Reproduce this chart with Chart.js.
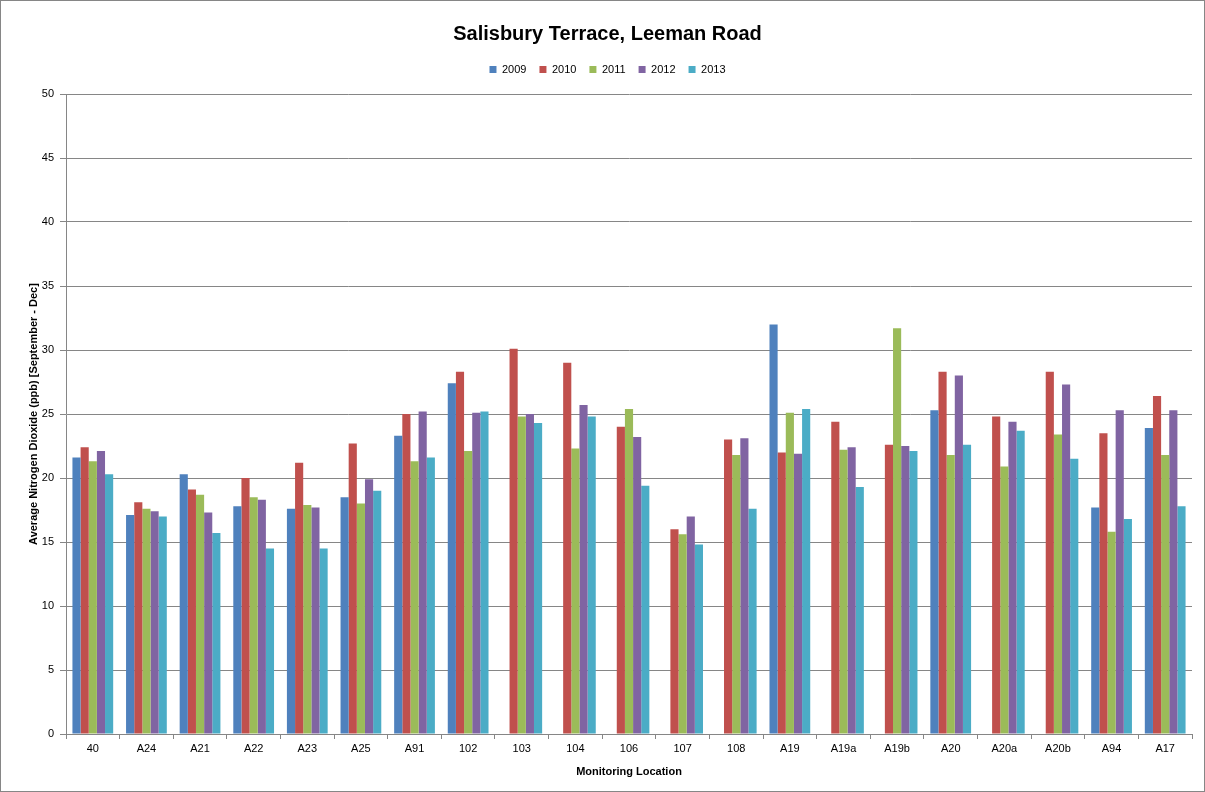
<!DOCTYPE html>
<html>
<head>
<meta charset="utf-8">
<script src="https://cdn.jsdelivr.net/npm/chart.js@4/dist/chart.umd.min.js"></script>
<style>
  html, body { margin: 0; padding: 0; background: #fff; }
  #wrap { width: 1205px; height: 792px; box-sizing: border-box; border: 1px solid #868686; }
  #wrap canvas { display: block; }
</style>
</head>
<body>
<div id="wrap"><canvas id="nox" width="1203" height="790"></canvas></div>
<script>
const locations = ['40', 'A24', 'A21', 'A22', 'A23', 'A25', 'A91', '102', '103', '104', '106',
  '107', '108', 'A19', 'A19a', 'A19b', 'A20', 'A20a', 'A20b', 'A94', 'A17'];

const y2009 = [21.6, 17.1, 20.3, 17.8, 17.6, 18.5, 23.3, 27.4, null, null, null,
  null, null, 32.0, null, null, 25.3, null, null, 17.7, 23.9];
const y2010 = [22.4, 18.1, 19.1, 20.0, 21.2, 22.7, 25.0, 28.3, 30.1, 29.0, 24.0,
  16.0, 23.0, 22.0, 24.4, 22.6, 28.3, 24.8, 28.3, 23.5, 26.4];
const y2011 = [21.3, 17.6, 18.7, 18.5, 17.9, 18.0, 21.3, 22.1, 24.8, 22.3, 25.4,
  15.6, 21.8, 25.1, 22.2, 31.7, 21.8, 20.9, 23.4, 15.8, 21.8];
const y2012 = [22.1, 17.4, 17.3, 18.3, 17.7, 19.9, 25.2, 25.1, 25.0, 25.7, 23.2,
  17.0, 23.1, 21.9, 22.4, 22.5, 28.0, 24.4, 27.3, 25.3, 25.3];
const y2013 = [20.3, 17.0, 15.7, 14.5, 14.5, 19.0, 21.6, 25.2, 24.3, 24.8, 19.4,
  14.8, 17.6, 25.4, 19.3, 22.1, 22.6, 23.7, 21.5, 16.8, 17.8];

const years = ['2009', '2010', '2011', '2012', '2013'];
const colours = ['#4F81BD', '#C0504D', '#9BBB59', '#8064A2', '#4BACC6'];
const series = [y2009, y2010, y2011, y2012, y2013];

const font = "'Liberation Sans', Arial, sans-serif";
Chart.defaults.font.family = font;
Chart.defaults.color = '#000';

// leave a bit more room under the legend, like the original
const legendGap = {
  id: 'legendGap',
  beforeUpdate(chart) {
    const lg = chart.legend;
    if (lg && !lg._gapDone) {
      const fit = lg.fit.bind(lg);
      lg.fit = function () { fit(); this.height += 9; };
      lg._gapDone = true;
    }
  }
};

new Chart(document.getElementById('nox'), {
  type: 'bar',
  data: {
    labels: locations,
    datasets: series.map((vals, i) => ({
      label: years[i],
      data: vals,
      backgroundColor: colours[i],
      borderWidth: 0,
      categoryPercentage: 0.76,
      barPercentage: 1.0
    }))
  },
  options: {
    responsive: false,
    animation: false,
    layout: { padding: { left: 22, right: 12, top: 0, bottom: 8 } },
    plugins: {
      title: {
        display: true,
        text: 'Salisbury Terrace, Leeman Road',
        font: { size: 20, weight: 'bold' },
        padding: { top: 21, bottom: 5 }
      },
      legend: {
        position: 'top',
        labels: { boxWidth: 7, boxHeight: 7, font: { size: 11 }, padding: 13 }
      },
      tooltip: { enabled: false }
    },
    scales: {
      x: {
        grid: { offset: true, drawOnChartArea: false, drawTicks: true, tickLength: 5, color: '#868686' },
        border: { color: '#868686' },
        ticks: { font: { size: 11 }, padding: 3, maxRotation: 0, autoSkip: false },
        title: { display: true, text: 'Monitoring Location', font: { size: 11, weight: 'bold' }, padding: { top: 2 } },
        afterFit: (s) => { s.height = 49; }
      },
      y: {
        min: 0,
        max: 50,
        ticks: { stepSize: 5, font: { size: 11 }, padding: 6 },
        grid: { color: '#868686', tickLength: 6 },
        border: { color: '#868686' },
        title: {
          display: true,
          text: 'Average Nitrogen Dioxide (ppb) [September - Dec]',
          font: { size: 11, weight: 'bold' }
        },
        afterFit: (s) => { s.width = 43; }
      }
    }
  },
  plugins: [legendGap]
});
</script>
</body>
</html>
